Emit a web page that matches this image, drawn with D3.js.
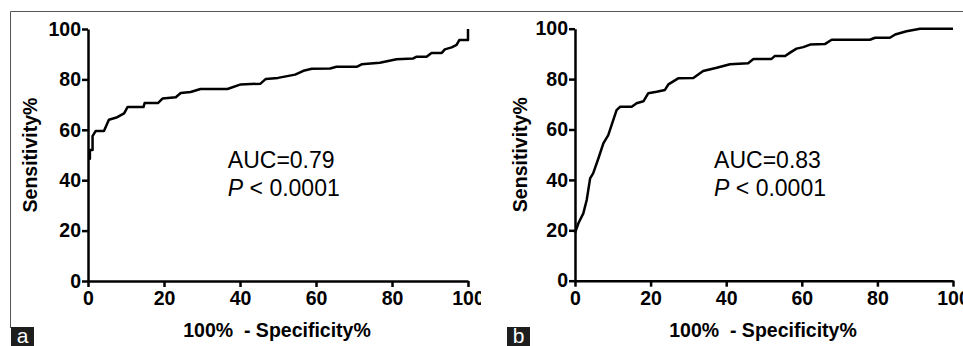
<!DOCTYPE html>
<html>
<head>
<meta charset="utf-8">
<script src="https://cdn.jsdelivr.net/npm/d3@7"></script>
<style>
  body { margin: 0; background: #fff; }
  svg { display: block; }
  text { font-family: "Liberation Sans", Arial, sans-serif; }
</style>
</head>
<body>
<div class="container"></div>
<script>
// ROC curve a
var fprA = [0, 0.5, 0.5, 1.2, 1.2, 2, 4.2, 5.5, 7.7, 9.5, 10.4, 14.6, 14.9, 18.4, 19.6, 23.1, 24.4, 27, 29.6, 36.7,
            40.2, 45.4, 46.8, 50, 54.5, 56.7, 58.9, 63.7, 65.4, 70.7, 72, 76.8, 81.2, 85.6, 86.5, 89.1, 90.4,
            93.1, 93.9, 95.7, 97, 97.7, 100, 100];
var sensA = [48.5, 48.5, 52, 52, 57.5, 59.5, 59.5, 64, 65, 66.5, 69, 69, 70.6, 70.6, 72.4, 72.9, 74.6, 75, 76.2, 76.2,
             78, 78.3, 80.2, 80.6, 81.9, 83.4, 84.2, 84.3, 85, 85, 86, 86.6, 88, 88.3, 89, 89, 90.5,
             90.5, 91.9, 92.7, 93.7, 95.6, 95.6, 100];
// ROC curve b
var fprB = [0, 0.9, 2.2, 3.1, 4.0, 4.8, 6.2, 7.5, 8.8, 9.7, 11, 11.9, 15, 16.3, 18.1, 19.4, 21.6, 23.8, 24.7, 27.3,
            31.3, 33.9, 37.5, 41, 45.8, 47.2, 52, 52.9, 55.6, 56.9, 58.6, 60.4, 62.2, 66.1, 67.9, 78, 79.4,
            83.3, 84.7, 87.7, 91.3, 100];
var sensB = [19, 22.8, 26.7, 32, 40.6, 42.6, 48.6, 54.5, 57.8, 61.8, 67.7, 69, 69, 70.4, 71.2, 74.4, 75, 75.7, 77.9, 80.3,
             80.4, 83.2, 84.5, 85.9, 86.3, 88, 88, 89.2, 89.2, 90.5, 92.1, 92.7, 93.7, 93.9, 95.6, 95.6, 96.4,
             96.4, 97.7, 99, 100, 100];

var tickValues = [0, 20, 40, 60, 80, 100];
var aucLabels = ["AUC=0.79", "AUC=0.83"];
var panelLetters = ["a", "b"];

var width = 963, height = 346;

var svg = d3.select('.container')
    .append('svg')
    .attr('width', width)
    .attr('height', height);

// outer frame (top + left edges only visible)
svg.append('path')
    .attr('d', 'M10.5,328 V11.5 H963')
    .attr('fill', 'none')
    .attr('stroke', '#555')
    .attr('stroke-width', 1);

svg.append('clipPath').attr('id', 'clipA')
    .append('rect').attr('x', 0).attr('y', 0).attr('width', 481).attr('height', height);

var panels = [
    {left: 88, right: 468, top: 29, bottom: 281, fpr: fprA, sens: sensA, clip: 'url(#clipA)', box: 11, ylab: 51},
    {left: 575, right: 953, top: 28.7, bottom: 280.7, fpr: fprB, sens: sensB, clip: null, box: 507, ylab: 48}
];

panels.forEach(function(p, i) {
    var g = svg.append('g').attr('clip-path', p.clip);

    var x = d3.scaleLinear().domain([0, 100]).range([p.left, p.right]);
    var y = d3.scaleLinear().domain([0, 100]).range([p.bottom, p.top]);

    var yAxis = d3.axisLeft(y).tickValues(tickValues).tickSizeInner(6).tickSizeOuter(0).tickPadding(1);
    var xAxis = d3.axisBottom(x).tickValues(tickValues).tickSizeInner(6).tickSizeOuter(0).tickPadding(4);

    var ya = g.append('g')
        .attr('transform', 'translate(' + p.left + ',0)')
        .call(yAxis);
    var xa = g.append('g')
        .attr('transform', 'translate(0,' + p.bottom + ')')
        .call(xAxis);

    [ya, xa].forEach(function(a) {
        a.selectAll('path, line').attr('stroke', '#000').attr('stroke-width', 2.5);
        a.selectAll('text')
            .attr('fill', '#000')
            .style('font-size', '19.5px')
            .style('font-weight', 'bold');
    });

    var line = d3.line()
        .x(function(d) { return x(d[0]); })
        .y(function(d) { return y(d[1]); });

    g.append('path')
        .datum(d3.zip(p.fpr, p.sens))
        .attr('d', line)
        .attr('fill', 'none')
        .attr('stroke', '#000')
        .attr('stroke-width', 2.5)
        .attr('stroke-linejoin', 'round');

    // axis titles
    g.append('text')
        .attr('transform', 'translate(' + (p.left - p.ylab) + ',' + ((p.top + p.bottom) / 2) + ') rotate(-90)')
        .attr('text-anchor', 'middle')
        .style('font-size', '19.5px')
        .style('font-weight', 'bold')
        .text('Sensitivity%');

    g.append('text')
        .attr('x', (p.left + p.right) / 2 - 1)
        .attr('y', 337)
        .attr('text-anchor', 'middle')
        .style('font-size', '19.5px')
        .style('font-weight', 'bold')
        .style('white-space', 'pre')
        .text('100%  - Specificity%');

    // annotation
    var tx = x(36.8);
    g.append('text')
        .attr('x', tx)
        .attr('y', y(44.8))
        .style('font-size', '23px')
        .text(aucLabels[i]);
    var pt = g.append('text')
        .attr('x', tx)
        .attr('y', y(33.7))
        .style('font-size', '23px')
        .style('white-space', 'pre');
    pt.append('tspan').style('font-style', 'italic').text('P');
    pt.append('tspan').text(' < 0.0001');

    // panel letter
    svg.append('rect')
        .attr('x', p.box).attr('y', 327)
        .attr('width', 23).attr('height', 19)
        .attr('fill', '#1e1e1e');
    svg.append('text')
        .attr('x', p.box + 11.5)
        .attr('y', 343)
        .attr('text-anchor', 'middle')
        .attr('fill', '#fff')
        .style('font-size', '21px')
        .text(panelLetters[i]);
});
</script>
</body>
</html>
